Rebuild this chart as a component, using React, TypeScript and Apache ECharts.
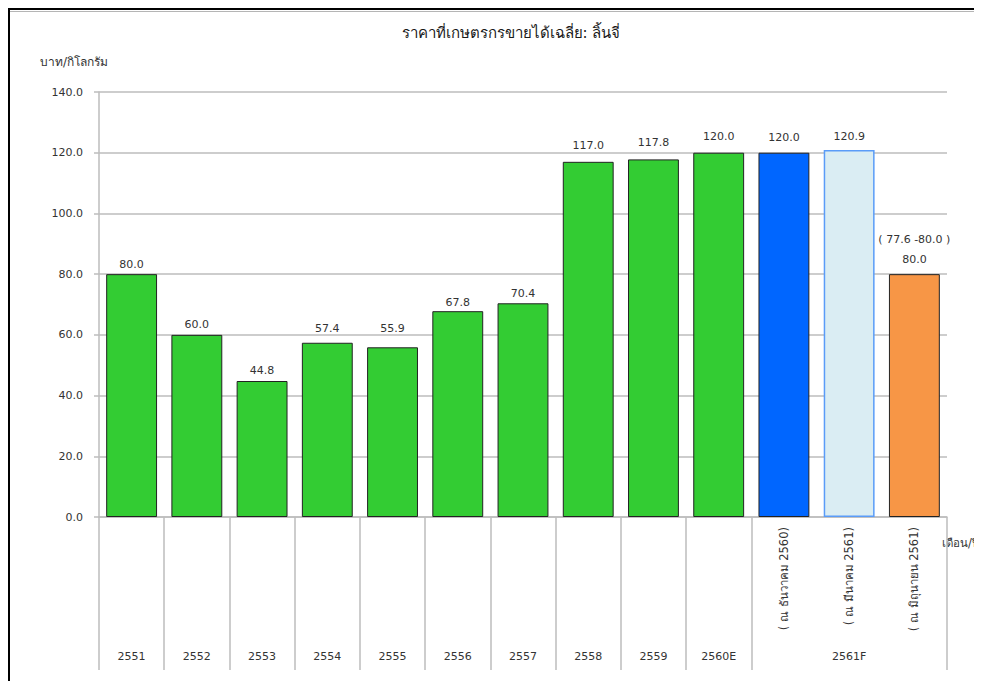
import React, { useEffect, useRef } from "react";
import * as echarts from "echarts";

const categories = ["2551", "2552", "2553", "2554", "2555", "2556", "2557", "2558", "2559", "2560E", "2561F-a", "2561F-b", "2561F-c"];
const yearLabels = ["2551", "2552", "2553", "2554", "2555", "2556", "2557", "2558", "2559", "2560E", "", "2561F", ""];
const subLabels = ["", "", "", "", "", "", "", "", "", "", "( ณ ธันวาคม 2560)", "( ณ มีนาคม 2561)", "( ณ มิถุนายน 2561)"];
const values = [80.0, 60.0, 44.8, 57.4, 55.9, 67.8, 70.4, 117.0, 117.8, 120.0, 120.0, 120.9, 80.0];
const rangeLabels = ["", "", "", "", "", "", "", "", "", "", "", "", "( 77.6 -80.0 )"];
const titleText = "ราคาที่เกษตรกรขายได้เฉลี่ย: ลิ้นจี่";
const yName = "บาท/กิโลกรัม";
const xName = "เดือน/ปี";

// styles (not data)
const fills = ["#33cc33", "#33cc33", "#33cc33", "#33cc33", "#33cc33", "#33cc33", "#33cc33", "#33cc33", "#33cc33", "#33cc33", "#0066ff", "#daedf3", "#f79646"];
const borders = ["#222", "#222", "#222", "#222", "#222", "#222", "#222", "#222", "#222", "#222", "#222", "#5a9cf8", "#222"];
const labelDist = [3.5, 3.5, 4.5, 7.5, 12.5, 2.5, 3.5, 9.5, 10.5, 9.5, 8.5, 6.5, 5];

const FONT = "'DejaVu Sans', Verdana, sans-serif";
const TEXT = "#333";
const GRID = "#bdbdbd";

export default function App() {
  const ref = useRef<HTMLDivElement>(null);
  useEffect(() => {
    if (!ref.current) return;
    const chart = echarts.init(ref.current, null, { renderer: "svg" });
    chart.setOption({
      animation: false,
      backgroundColor: "#fff",
      textStyle: { fontFamily: FONT },
      grid: { left: 89, top: 82, width: 848, height: 425, containLabel: false },
      graphic: [
        {
          type: "text",
          x: 501,
          y: 23,
          style: { text: titleText, textAlign: "center", textVerticalAlign: "middle", font: `15px ${FONT}`, fill: "#1a1a1a" },
        },
        {
          type: "text",
          x: 30,
          y: 52,
          style: { text: yName, textAlign: "left", textVerticalAlign: "middle", font: `12px ${FONT}`, fill: TEXT },
        },
        {
          type: "text",
          x: 932,
          y: 533,
          style: { text: xName, textAlign: "left", textVerticalAlign: "middle", font: `11.5px ${FONT}`, fill: TEXT },
        },
      ],
      xAxis: [
        {
          type: "category",
          data: categories,
          position: "bottom",
          axisLine: { lineStyle: { color: GRID, width: 1.5 } },
          axisTick: {
            show: true,
            length: 153,
            interval: (i: number) => !(i === 11 || i === 12),
            lineStyle: { color: GRID, width: 1.5 },
          },
          axisLabel: {
            interval: 0,
            rotate: 90,
            margin: 10,
            fontSize: 11.5,
            color: TEXT,
            fontFamily: FONT,
            formatter: (_v: string, i: number) => subLabels[i],
          },
        },
        {
          type: "category",
          data: categories,
          position: "bottom",
          offset: 126,
          axisLine: { show: false },
          axisTick: { show: false },
          axisLabel: {
            interval: 0,
            margin: 8,
            fontSize: 11,
            color: TEXT,
            fontFamily: FONT,
            formatter: (_v: string, i: number) => yearLabels[i],
          },
        },
      ],
      yAxis: {
        type: "value",
        min: 0,
        max: 140,
        interval: 20,
        axisLine: { show: true, lineStyle: { color: GRID, width: 1.5 } },
        axisTick: { show: true, length: 5, lineStyle: { color: GRID, width: 1.5 } },
        splitLine: { lineStyle: { color: GRID, width: 1.5 } },
        axisLabel: {
          margin: 16,
          fontSize: 11,
          color: TEXT,
          fontFamily: FONT,
          formatter: (v: number) => v.toFixed(1),
        },
      },
      series: [
        {
          type: "bar",
          xAxisIndex: 0,
          barCategoryGap: "22%",
          data: values.map((v, i) => ({
            value: v,
            itemStyle: { color: fills[i], borderColor: borders[i], borderWidth: i === 11 ? 1.5 : 1 },
            label: {
              show: true,
              position: "top",
              distance: labelDist[i],
              fontSize: 11,
              color: TEXT,
              fontFamily: FONT,
              lineHeight: rangeLabels[i] ? 20 : 13,
              formatter: () => (rangeLabels[i] ? `${rangeLabels[i]}\n${v.toFixed(1)}` : v.toFixed(1)),
            },
          })),
        },
      ],
    });
    return () => chart.dispose();
  }, []);

  return (
    <div
      style={{
        position: "relative",
        width: 974,
        height: 673,
        borderTop: "2px solid #000",
        borderLeft: "2px solid #000",
        boxSizing: "border-box",
        overflow: "hidden",
        background: "#fff",
      }}
    >
      <div ref={ref} style={{ position: "absolute", left: 0, top: 0, width: 972, height: 671 }} />
      <div style={{ position: "absolute", left: 0, top: 1, width: 972, height: 1, background: "#b5b5b5" }} />
    </div>
  );
}
